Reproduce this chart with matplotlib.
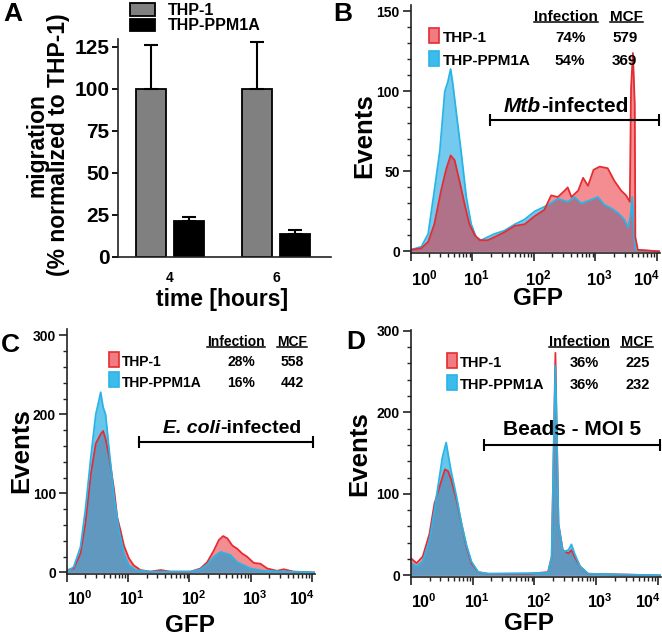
import numpy as np
import matplotlib.pyplot as plt
from matplotlib.patches import Rectangle
from matplotlib.lines import Line2D
from matplotlib.ticker import MultipleLocator, LogLocator, NullFormatter, FixedLocator

plt.rcParams['font.family'] = 'Liberation Sans'
plt.rcParams['font.weight'] = 'bold'
plt.rcParams['axes.labelweight'] = 'bold'
plt.rcParams['mathtext.fontset'] = 'custom'
plt.rcParams['mathtext.rm'] = 'Liberation Sans:bold'
plt.rcParams['mathtext.bf'] = 'Liberation Sans:bold'
plt.rcParams['mathtext.it'] = 'Liberation Sans:italic:bold'

# ---- panel A: migration ----
times = ['4', '6']
thp1_mig = [100, 100]
thp1_err = [26, 28]
ppm_mig = [21.5, 13.5]
ppm_err = [2.5, 2.5]

# ---- panel B: Mtb (GFP as log10 value, events) ----
b_red_lx = [0.0, 0.17, 0.28, 0.38, 0.49, 0.57, 0.645, 0.71, 0.79, 0.87, 0.95, 1.04, 1.12, 1.25, 1.36,
            1.52, 1.69, 1.85, 2.01, 2.17, 2.28, 2.39, 2.50, 2.55, 2.61, 2.72, 2.80, 2.88, 2.97, 3.07,
            3.20, 3.31, 3.42, 3.50, 3.56, 3.58, 3.61, 3.64, 3.65, 3.69, 4.05]
b_red_y = [1, 2, 6, 17, 38, 51, 60, 57, 44, 30, 17, 10, 7, 7, 9,
           12, 16, 17, 22, 26, 35, 34, 38, 40, 34, 38, 46, 41, 51, 53,
           52, 44, 38, 35, 31, 102, 124, 92, 9, 1, 0]
b_blue_lx = [0.0, 0.17, 0.28, 0.38, 0.47, 0.55, 0.60, 0.645, 0.68, 0.74, 0.82, 0.90, 0.98, 1.06, 1.14,
             1.25, 1.36, 1.52, 1.69, 1.85, 2.01, 2.12, 2.23, 2.39, 2.55, 2.66, 2.77, 2.91, 3.04, 3.15,
             3.26, 3.37, 3.47, 3.53, 3.57, 3.60, 3.63, 3.65, 4.05]
b_blue_y = [1, 3, 11, 38, 63, 100, 106, 114, 105, 86, 61, 34, 17, 9, 7,
            9, 11, 13, 17, 20, 25, 27, 29, 33, 31, 34, 30, 32, 34, 29,
            27, 24, 20, 15, 22, 34, 9, 1, 0]

# ---- panel C: E. coli ----
c_red_lx = [0.0, 0.11, 0.22, 0.30, 0.39, 0.47, 0.55, 0.59, 0.63, 0.69, 0.77, 0.82, 0.88, 0.93, 1.01,
            1.09, 1.20, 1.36, 1.53, 1.69, 2.02, 2.18, 2.29, 2.40, 2.48, 2.55, 2.62, 2.70, 2.78, 2.86,
            2.94, 3.05, 3.16, 3.27, 3.43, 3.54, 3.70, 4.05]
c_red_y = [3, 5, 24, 62, 125, 163, 175, 179, 169, 146, 104, 70, 51, 34, 18,
           9, 3, 1, 3, 1, 1, 5, 13, 28, 41, 46, 43, 34, 30, 24,
           20, 12, 11, 5, 2, 4, 1, 0]
c_blue_lx = [0.0, 0.11, 0.22, 0.30, 0.39, 0.47, 0.52, 0.55, 0.59, 0.63, 0.69, 0.77, 0.85, 0.93, 1.01,
             1.12, 1.36, 2.02, 2.18, 2.29, 2.40, 2.51, 2.59, 2.67, 2.78, 2.89, 3.00, 3.21, 4.05]
c_blue_y = [1, 7, 32, 79, 146, 200, 217, 228, 209, 200, 154, 95, 53, 24, 9,
            3, 1, 1, 4, 10, 20, 26, 24, 22, 13, 9, 5, 2, 0]

# ---- panel D: beads ----
d_red_lx = [0.0, 0.09, 0.19, 0.30, 0.38, 0.46, 0.55, 0.60, 0.65, 0.74, 0.82, 0.90, 0.98, 1.09, 1.25,
            1.68, 1.90, 2.22, 2.28, 2.31, 2.34, 2.36, 2.39, 2.46, 2.55, 2.60, 2.65, 2.74, 2.87, 4.05]
d_red_y = [21, 15, 23, 51, 88, 108, 130, 128, 118, 92, 63, 35, 15, 4, 2,
           2, 2, 4, 23, 145, 273, 185, 63, 31, 27, 31, 23, 11, 2, 0]
d_blue_lx = [0.0, 0.09, 0.19, 0.30, 0.38, 0.46, 0.51, 0.57, 0.61, 0.65, 0.74, 0.82, 0.90, 0.98, 1.09,
             1.25, 2.22, 2.28, 2.31, 2.34, 2.36, 2.39, 2.46, 2.55, 2.60, 2.65, 2.74, 2.87, 4.05]
d_blue_y = [15, 11, 17, 43, 80, 120, 145, 163, 145, 128, 96, 63, 37, 17, 4,
            2, 3, 23, 145, 257, 185, 63, 29, 31, 38, 27, 11, 2, 0]

names = ['THP-1', 'THP-PPM1A']
b_inf, b_mcf = ['74%', '54%'], ['579', '369']
c_inf, c_mcf = ['28%', '16%'], ['558', '442']
d_inf, d_mcf = ['36%', '36%'], ['225', '232']

# gates: (log10 start, log10 end, events level)
b_gate = (1.28, 4.03, 82)
c_gate = (1.17, 4.01, 165)
d_gate = (1.18, 4.03, 160)

red_line, red_fill = '#e42c32', '#eb1c24'
blue_line, blue_fill = '#2ab4e6', '#00a0e0'
spine_c = '#222222'

fig = plt.figure(figsize=(6.62, 6.38), dpi=100)
axA = fig.add_axes([0.1782, 0.5972, 0.3218, 0.3417])
axB = fig.add_axes([0.6208, 0.6034, 0.3761, 0.3887])
axC = fig.add_axes([0.1012, 0.1003, 0.3746, 0.3840])
axD = fig.add_axes([0.6208, 0.0956, 0.3776, 0.3871])

for ax in [axA, axB, axC, axD]:
    for s in ['top', 'right']:
        ax.spines[s].set_visible(False)
    for s in ['left', 'bottom']:
        ax.spines[s].set_linewidth(1.2)
        ax.spines[s].set_color(spine_c)

# ---------------- A ----------------
pos = np.arange(len(times))
w = 0.283
off = 0.179
axA.bar(pos - off, thp1_mig, w, color='#808080', edgecolor='black', lw=1.3, label=names[0])
axA.bar(pos + off, ppm_mig, w, color='black', edgecolor='black', lw=1.3, label=names[1])
axA.errorbar(pos - off, thp1_mig, yerr=[[0, 0], thp1_err], fmt='none', ecolor='black',
             elinewidth=1.5, capsize=5, capthick=1.5)
axA.errorbar(pos + off, ppm_mig, yerr=[[0, 0], ppm_err], fmt='none', ecolor='black',
             elinewidth=1.5, capsize=5, capthick=1.5)
axA.set_xlim(-0.49, 1.52)
axA.set_ylim(0, 129.5)
axA.set_yticks([0, 25, 50, 75, 100, 125])
axA.set_xticks(pos)
axA.set_xticklabels(times, fontsize=10)
axA.tick_params(axis='x', length=0, pad=10)
axA.tick_params(axis='y', labelsize=15, length=4, width=1.3, pad=2)
axA.set_ylabel('migration\n(% normalized to THP-1)', fontsize=16.5, va='center', linespacing=0.95)
axA.yaxis.set_label_coords(-0.33, 0.514)
axA.set_xlabel('time [hours]', fontsize=16.5, va='center')
axA.xaxis.set_label_coords(0.488, -0.197)
axA.legend(loc='upper left', bbox_to_anchor=(0.056, 1.165), frameon=False, fontsize=11.5,
           handlelength=1.6, handleheight=0.8, handletextpad=0.8, labelspacing=0.02,
           borderpad=0, borderaxespad=0)


# ---------------- FACS panels ----------------
def draw_hist(ax, lx, y, line, fill, a):
    x = 10 ** np.array(lx)
    ax.fill_between(x, y, 0, color=fill, alpha=a, lw=0)
    ax.plot(x, y, color=line, lw=1.3)


def style_facs(ax, ylim, yticks, yminor, xfs, shifts):
    ax.set_xscale('log')
    ax.set_xlim(1, 10 ** 4.05)
    ax.set_ylim(*ylim)
    ax.set_yticks(yticks)
    ax.yaxis.set_minor_locator(MultipleLocator(yminor))
    ax.xaxis.set_major_locator(FixedLocator([1, 10, 100, 1000, 10000]))
    ax.xaxis.set_minor_locator(LogLocator(base=10, subs=np.arange(2, 10)))
    ax.xaxis.set_minor_formatter(NullFormatter())
    ax.set_xticklabels([])
    for k, dx in enumerate(shifts):
        ax.annotate(r'$\mathbf{10^{%d}}$' % k, xy=(10 ** k, 0), xycoords=('data', 'axes fraction'),
                    xytext=(dx, -15), textcoords='offset pixels', ha='center', va='top',
                    fontsize=xfs)
    ax.tick_params(axis='both', which='major', length=6, width=1.2, color=spine_c)
    ax.tick_params(axis='both', which='minor', length=3, width=1.0, color=spine_c)
    ax.tick_params(axis='y', labelsize=10, pad=2)


def table(ax, inf, mcf, fs, px, tx, rows, hy, hx, vx):
    hdr = []
    hdr.append(ax.text(hx[0], hy, 'Infection', transform=ax.transAxes, ha='center', va='center',
                       fontsize=fs))
    hdr.append(ax.text(hx[1], hy, 'MCF', transform=ax.transAxes, ha='center', va='center',
                       fontsize=fs))
    bb = ax.get_window_extent()
    pw = 10 / bb.width
    ph = 15 / bb.height
    for r, (nm, fc, ec) in enumerate(zip(names, ['#f07c80', '#3cbcec'], [red_line, blue_line])):
        yy = rows[r]
        ax.add_patch(Rectangle((px, yy - ph / 2 + 3 / bb.height), pw, ph, transform=ax.transAxes,
                               facecolor=fc, edgecolor=ec, lw=1.2, clip_on=False))
        ax.text(tx, yy, nm, transform=ax.transAxes, ha='left', va='center', fontsize=fs)
        ax.text(vx[0], yy, inf[r], transform=ax.transAxes, ha='center', va='center', fontsize=fs)
        ax.text(vx[1], yy, mcf[r], transform=ax.transAxes, ha='center', va='center', fontsize=fs)
    return hdr


def gate(ax, g):
    x = 10 ** np.array([g[0], g[1]])
    ax.plot(x, [g[2], g[2]], color='black', lw=1.5, marker='|', ms=8, mew=1.5, clip_on=False)


def axis_labels(ax, ypos, xpos):
    ax.set_ylabel('Events', fontsize=18.5, va='center')
    ax.yaxis.set_label_coords(*ypos)
    ax.set_xlabel('GFP', fontsize=17.5, va='center')
    ax.xaxis.set_label_coords(*xpos)


# B
draw_hist(axB, b_blue_lx, b_blue_y, blue_line, blue_fill, 0.55)
draw_hist(axB, b_red_lx, b_red_y, red_line, red_fill, 0.5)
style_facs(axB, (-1, 154), [0, 50, 100, 150], 10, 12, [13, 4, 4, 4, -10])
gate(axB, b_gate)
axB.annotate('Mtb', xy=(10 ** 2.11, b_gate[2]), xytext=(0, 4), textcoords='offset pixels',
             ha='right', va='bottom', fontsize=15, style='italic')
axB.annotate('-infected', xy=(10 ** 2.11, b_gate[2]), xytext=(0, 4), textcoords='offset pixels',
             ha='left', va='bottom', fontsize=15)
hdrB = table(axB, b_inf, b_mcf, 11, 0.072, 0.128, [0.867, 0.774], 0.952, [0.622, 0.867],
             [0.639, 0.859])
axis_labels(axB, (-0.189, 0.472), (0.51, -0.185))

# C
draw_hist(axC, c_red_lx, c_red_y, red_line, red_fill, 0.5)
draw_hist(axC, c_blue_lx, c_blue_y, blue_line, blue_fill, 0.6)
style_facs(axC, (-2, 308), [0, 100, 200, 300], 20, 11.5, [13, 4, 4, 4, -10])
gate(axC, c_gate)
axC.annotate('E. coli', xy=(10 ** 2.51, c_gate[2]), xytext=(0, 5), textcoords='offset pixels',
             ha='right', va='bottom', fontsize=14, style='italic')
axC.annotate('-infected', xy=(10 ** 2.51, c_gate[2]), xytext=(0, 5), textcoords='offset pixels',
             ha='left', va='bottom', fontsize=14)
hdrC = table(axC, c_inf, c_mcf, 10, 0.169, 0.222, [0.865, 0.780], 0.947, [0.681, 0.907],
             [0.702, 0.907])
axis_labels(axC, (-0.185, 0.502), (0.496, -0.212))

# D
draw_hist(axD, d_red_lx, d_red_y, red_line, red_fill, 0.5)
draw_hist(axD, d_blue_lx, d_blue_y, blue_line, blue_fill, 0.6)
style_facs(axD, (-2, 301), [0, 100, 200, 300], 20, 11.5, [13, 4, 4, 4, -10])
gate(axD, d_gate)
axD.annotate('Beads - MOI 5', xy=(10 ** 2.61, d_gate[2]), xytext=(0, 6), textcoords='offset pixels',
             ha='center', va='bottom', fontsize=15)
hdrD = table(axD, d_inf, d_mcf, 10.5, 0.144, 0.196, [0.866, 0.777], 0.951, [0.672, 0.904],
             [0.692, 0.908])
axis_labels(axD, (-0.208, 0.498), (0.472, -0.19))

# panel letters
for lab, x, y in [('A', 3, 2), ('B', 333, 2), ('C', 1, 333), ('D', 346, 330)]:
    fig.text(x / 662, 1 - y / 638, lab, fontsize=19, ha='left', va='top')

# underline the table headers
fig.canvas.draw()
inv = fig.transFigure.inverted()
for t in hdrB + hdrC + hdrD:
    bb = t.get_window_extent()
    (x0, y0), (x1, _) = inv.transform([(bb.x0, bb.y0 + 2), (bb.x1, bb.y0 + 2)])
    fig.add_artist(Line2D([x0, x1], [y0, y0], transform=fig.transFigure, color='black', lw=1.1))

fig.savefig('out.png', dpi=100)
